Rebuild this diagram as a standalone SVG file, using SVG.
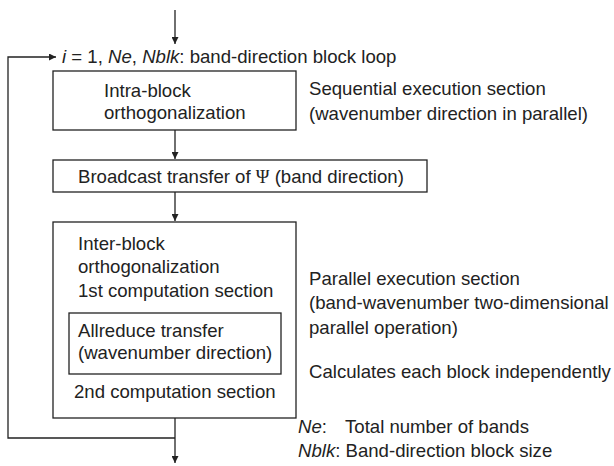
<svg xmlns="http://www.w3.org/2000/svg" width="614" height="466" viewBox="0 0 614 466">
<style>
text{font-family:"Liberation Sans",Arial,sans-serif;font-size:18.6px;fill:#222}
.it{font-style:italic}
.box{fill:#fff;stroke:#222;stroke-width:1.3}
.ln{fill:none;stroke:#222;stroke-width:1.3}
</style>
<defs>
<marker id="ah" viewBox="0 0 10 10" refX="10" refY="5" markerWidth="7" markerHeight="7" markerUnits="userSpaceOnUse" orient="auto"><path d="M0,0 L10,5 L0,10 z" fill="#222"/></marker>
</defs>
<g id="connectors">
<line class="ln" x1="175" y1="10" x2="175" y2="44" marker-end="url(#ah)"/>
<line class="ln" x1="175" y1="130" x2="175" y2="159" marker-end="url(#ah)"/>
<line class="ln" x1="175" y1="192" x2="175" y2="221" marker-end="url(#ah)"/>
<line class="ln" x1="175" y1="418" x2="175" y2="463" marker-end="url(#ah)"/>
<polyline class="ln" points="175,438 8,438 8,57 56,57" marker-end="url(#ah)"/>
</g>
<g id="loop-label">
<text x="62" y="63"><tspan class="it">i</tspan> = 1, <tspan class="it">Ne</tspan>, <tspan class="it">Nblk</tspan>: band-direction block loop</text>
</g>
<g id="intra">
<rect class="box" x="53" y="71" width="243" height="59"/>
<text x="104" y="97">Intra-block</text>
<text x="104" y="119">orthogonalization</text>
</g>
<g id="seq-note">
<text x="309" y="95">Sequential execution section</text>
<text x="309" y="120">(wavenumber direction in parallel)</text>
</g>
<g id="broadcast">
<rect class="box" x="53" y="160" width="374" height="32"/>
<text x="78" y="183">Broadcast transfer of <tspan font-family="Liberation Serif,serif">Ψ</tspan> (band direction)</text>
</g>
<g id="inter">
<rect class="box" x="53" y="222" width="243" height="196"/>
<text x="78" y="250">Inter-block</text>
<text x="78" y="273">orthogonalization</text>
<text x="78" y="297">1st computation section</text>
<text x="74" y="398">2nd computation section</text>
</g>
<g id="allreduce">
<rect class="box" x="69" y="313" width="212" height="61"/>
<text x="78" y="337">Allreduce transfer</text>
<text x="78" y="359">(wavenumber direction)</text>
</g>
<g id="par-note">
<text x="309" y="285">Parallel execution section</text>
<text x="309" y="309">(band-wavenumber two-dimensional</text>
<text x="309" y="334">parallel operation)</text>
<text x="309" y="378">Calculates each block independently</text>
</g>
<g id="legend">
<text x="298" y="433"><tspan class="it">Ne</tspan>:</text>
<text x="345" y="433">Total number of bands</text>
<text x="298" y="457"><tspan class="it">Nblk</tspan>: Band-direction block size</text>
</g>
</svg>
